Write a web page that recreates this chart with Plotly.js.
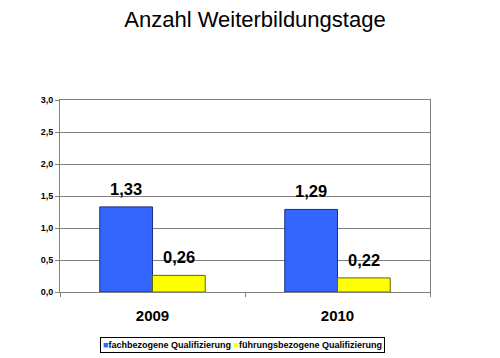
<!DOCTYPE html>
<html>
<head>
<meta charset="utf-8">
<script src="https://cdn.plot.ly/plotly-3.0.1.min.js"></script>
<style>html,body{margin:0;padding:0;background:#fff;}#chart{width:500px;height:358px;}</style>
</head>
<body>
<div id="chart"></div>
<script>
const categories = ["2009", "2010"];
const seriesNames = ["fachbezogene Qualifizierung", "führungsbezogene Qualifizierung"];
const fachValues = [1.33, 1.29];
const fuehrungValues = [0.26, 0.22];
const yTickValues = [0, 0.5, 1, 1.5, 2, 2.5, 3];
const seriesColors = ["#3366FF", "#FFFF00"];
const seriesEdges = ["#1a2f80", "#666600"];

const bargap = 0.43;
const fmt = v => v.toFixed(2).replace('.', ',');
const labelFont = {family: "Liberation Sans, Arial, sans-serif", size: 16.5, color: "#000", weight: "bold"};

const seriesValues = [fachValues, fuehrungValues];
const traces = seriesValues.map((vals, i) => ({
  type: "bar", name: seriesNames[i], x: categories, y: vals,
  marker: {color: seriesColors[i], line: {color: seriesEdges[i], width: 1}}, hoverinfo: "none"
}));

// data labels placed via the axes (category index +/- half a bar width)
const barW = (1 - bargap) / seriesValues.length;
const labelAnns = [];
seriesValues.forEach((vals, i) => {
  const off = (i - (seriesValues.length - 1) / 2) * barW;
  vals.forEach((v, j) => {
    labelAnns.push({x: j + off, y: v, xref: "x", yref: "y", text: fmt(v),
      showarrow: false, xanchor: "center", yanchor: "bottom", yshift: 7, font: labelFont});
  });
});

const legendText = seriesNames.map((n, i) =>
  `<span style="color:${seriesColors[i]}">■</span>${n}`).join(" ");

const layout = {
  width: 500, height: 358,
  margin: {l: 60, r: 70, t: 100, b: 66, autoexpand: false},
  paper_bgcolor: "#fff", plot_bgcolor: "#fff",
  separators: ",.",
  font: {family: "Liberation Sans, Arial, sans-serif", color: "#000"},
  title: {text: "Anzahl Weiterbildungstage", x: 0.51, xanchor: "center", y: 0.945, yanchor: "middle",
          font: {family: "Liberation Sans, Arial, sans-serif", size: 22, color: "#000"}},
  barmode: "group", bargap: bargap, bargroupgap: 0,
  showlegend: false,
  annotations: labelAnns.concat([{
    text: legendText, xref: "paper", yref: "paper", x: 0.493, y: -0.276,
    xanchor: "center", yanchor: "middle", showarrow: false,
    font: {size: 9, weight: "bold", color: "#000"},
    bordercolor: "#000", borderwidth: 1, borderpad: 2, bgcolor: "#fff"
  }]),
  xaxis: {type: "category", showline: true, linecolor: "#808080", linewidth: 1, mirror: true,
          ticks: "outside", tickson: "boundaries", ticklen: 4, tickcolor: "#808080",
          ticklabelstandoff: 10,
          tickfont: {size: 15, weight: "bold"}, showgrid: false},
  yaxis: {range: [0, 3], tickvals: yTickValues, tickformat: ".1f",
          showline: true, linecolor: "#808080", linewidth: 1, mirror: true,
          ticks: "outside", ticklen: 4, tickcolor: "#808080",
          gridcolor: "#808080", gridwidth: 1, zeroline: false,
          tickfont: {size: 9, weight: "bold"}}
};

Plotly.newPlot("chart", traces, layout, {displayModeBar: false, staticPlot: true});
</script>
</body>
</html>
